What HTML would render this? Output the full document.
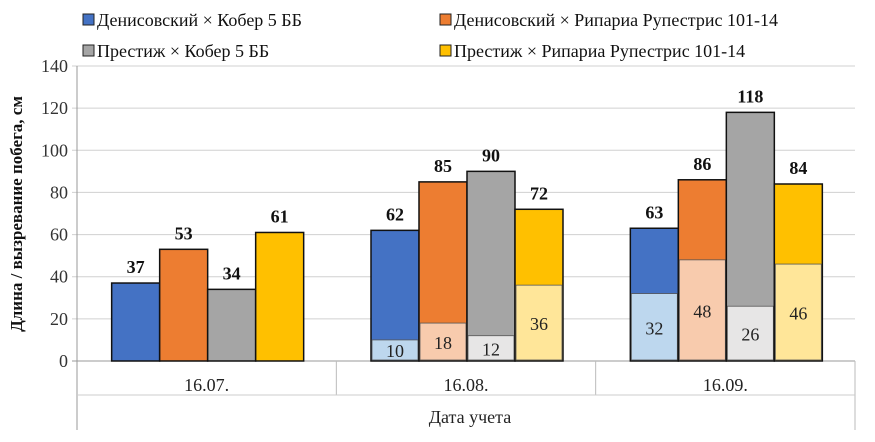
<!DOCTYPE html>
<html><head><meta charset="utf-8"><style>
body{margin:0;background:#fff}
svg text{font-family:"Liberation Serif","Noto Serif CJK SC","DejaVu Serif",serif}
</style></head><body>
<svg id="c" width="875" height="437"></svg>
<script>
const categories=["16.07.","16.08.","16.09."];
const seriesNames=["Денисовский × Кобер 5 ББ","Денисовский × Рипариа Рупестрис 101-14","Престиж × Кобер 5 ББ","Престиж × Рипариа Рупестрис 101-14"];
const lengthVals=[[37,62,63],[53,85,86],[34,90,118],[61,72,84]];
const ripeVals=[[null,10,32],[null,18,48],[null,12,26],[null,36,46]];
const yTicks=[0,20,40,60,80,100,120,140];
const dark=["#4472c4","#ed7d31","#a5a5a5","#ffc000"];
const light=["#bdd7ee","#f8cbad","#e7e6e6","#ffe699"];
const svg=document.getElementById('c');const NS="http://www.w3.org/2000/svg";
function mk(t,a,p){const e=document.createElementNS(NS,t);for(const k in a)e.setAttribute(k,a[k]);(p||svg).appendChild(e);return e;}
const x0=77,x1=855,yTop=66,yZero=361;
const y=v=>yZero-(v/140)*(yZero-yTop);
const cw=(x1-x0)/categories.length,bw=48;
const bx=(c,s)=>x0+c*cw+(cw-4*bw)/2+1+s*bw;
yTicks.forEach(t=>{
 const l=mk('line',{x1:x0-5,x2:x1,y1:y(t),y2:y(t),stroke:t===0?'#999':'#d0d0d0','stroke-width':1});
 
 const tx=mk('text',{x:x0-9,y:y(t)+6,'text-anchor':'end','font-size':18,fill:'#333'});tx.textContent=t;
 
});
const ax=mk('line',{x1:x0,x2:x0,y1:yTop,y2:430,stroke:'#999'});
const rb=mk('line',{x1:x1,x2:x1,y1:yZero,y2:430,stroke:'#bbb'});
for(let i=1;i<categories.length;i++){const d=mk('line',{x1:x0+i*cw,x2:x0+i*cw,y1:yZero,y2:395,stroke:'#bbb'});}
const hd=mk('line',{x1:x0,x2:x1,y1:395,y2:395,stroke:'#ccc'});
categories.forEach((c,i)=>{const t=mk('text',{x:x0+(i+0.5)*cw,y:391,'text-anchor':'middle','font-size':18,fill:'#222'});t.textContent=c;});
for(let s=0;s<4;s++)for(let c=0;c<3;c++){
 const v=lengthVals[s][c],X=bx(c,s);
 const r=mk('rect',{x:X,y:y(v),width:bw,height:y(0)-y(v),fill:dark[s],stroke:'#111','stroke-width':1.5});
 
 const lb=mk('text',{x:X+bw/2,y:y(v)-10,'text-anchor':'middle','font-size':18,'font-weight':'bold',fill:'#111'});lb.textContent=v;
 
 const w=ripeVals[s][c];
 if(w!=null){
  const r2=mk('rect',{x:X+1,y:y(w),width:bw-2,height:y(0)-y(w)-1,fill:light[s],stroke:'#555','stroke-width':0.8});
  
  const l2=mk('text',{x:X+bw/2,y:Math.min((y(w)+y(0))/2+7,y(0)-4),'text-anchor':'middle','font-size':18,fill:'#222'});l2.textContent=w;
  
 }
}
const yt=mk('text',{transform:'translate(22,214) rotate(-90)','text-anchor':'middle','font-size':17,'font-weight':'bold',fill:'#111'});yt.textContent='Длина / вызревание побега, см';

const xt=mk('text',{x:470,y:423,'text-anchor':'middle','font-size':18,fill:'#222'});xt.textContent='Дата учета';

const lp=[[83,20],[440,20],[83,51],[440,51]];
[0,1,2,3].forEach((s,i)=>{const g=mk('g',{});
 mk('rect',{x:lp[i][0],y:lp[i][1]-6,width:11,height:11,fill:dark[s],stroke:'#222','stroke-width':1},g);
 const t=mk('text',{x:lp[i][0]+14,y:lp[i][1]+6,'font-size':18,fill:'#111'},g);t.textContent=seriesNames[s];});
</script>
</body></html>
